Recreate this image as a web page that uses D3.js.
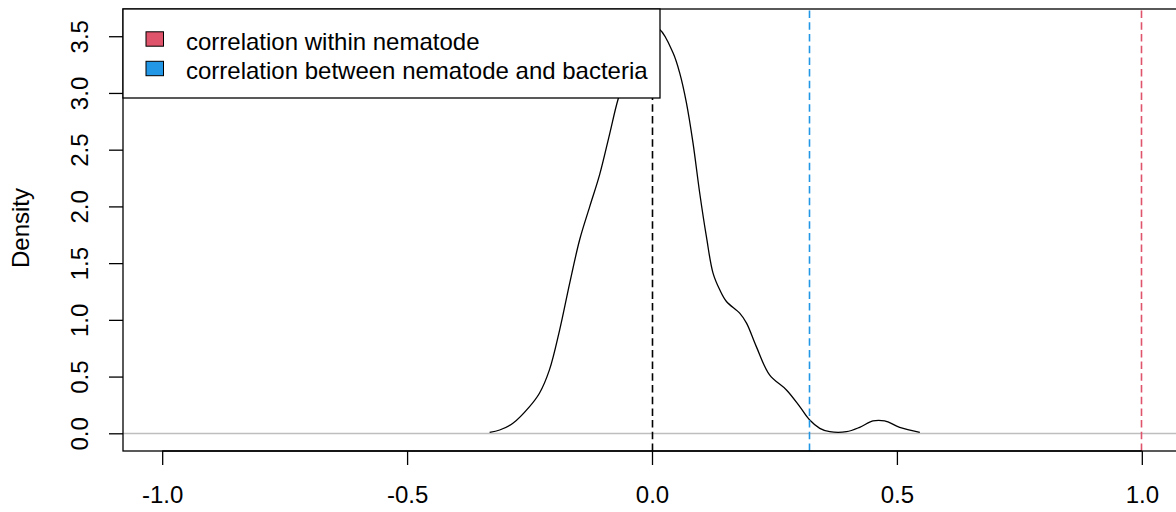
<!DOCTYPE html>
<html>
<head>
<meta charset="utf-8">
<script src="https://cdn.jsdelivr.net/npm/d3@7"></script>
<style>
  html, body { margin: 0; padding: 0; background: #fff; }
  svg { display: block; }
  text { font-family: "Liberation Sans", Arial, sans-serif; fill: #000; }
</style>
</head>
<body>
<svg id="chart" width="1176" height="512"></svg>
<script>
// ---- data ----
const densityX = [-0.3315, -0.311, -0.284, -0.250, -0.2298, -0.2094, -0.1885, -0.168, -0.1477, -0.127, -0.1069, -0.0864, -0.0694, -0.0455, -0.025, -0.005, 0.0157, 0.0429, 0.0565, 0.0703, 0.0837, 0.0974, 0.111, 0.1246, 0.1383, 0.152, 0.179, 0.193, 0.213, 0.240, 0.2745, 0.3017, 0.322, 0.3425, 0.363, 0.397, 0.424, 0.451, 0.475, 0.5056, 0.5468];
const densityY = [0.009, 0.029, 0.088, 0.235, 0.353, 0.559, 0.912, 1.324, 1.706, 2.000, 2.280, 2.640, 2.942, 3.25, 3.47, 3.58, 3.56, 3.354, 3.177, 2.913, 2.56, 2.118, 1.735, 1.412, 1.265, 1.162, 1.059, 0.971, 0.764, 0.515, 0.382, 0.235, 0.117, 0.044, 0.014, 0.014, 0.053, 0.109, 0.109, 0.053, 0.009];

const refValues = [0, 0.322, 1.0];
const refColors = ["#000000", "#2297E6", "#DF536B"];

const legendLabels = ["correlation within nematode", "correlation between nematode and bacteria"];
const legendColors = ["#DF536B", "#2297E6"];

const xTicks = [-1.0, -0.5, 0.0, 0.5, 1.0];
const xTickLabels = ["-1.0", "-0.5", "0.0", "0.5", "1.0"];
const yTicks = [0.0, 0.5, 1.0, 1.5, 2.0, 2.5, 3.0, 3.5];
const yTickLabels = ["0.0", "0.5", "1.0", "1.5", "2.0", "2.5", "3.0", "3.5"];
const yLabel = "Density";

// ---- layout ----
const plotLeft = 123, plotRight = 1181, plotTop = 9, plotBottom = 451;
const svg = d3.select("#chart");

const x = d3.scaleLinear().domain([-1.08, 1.08]).range([plotLeft, plotRight]);
const y = d3.scaleLinear().domain([-0.156, 3.74]).range([plotBottom, plotTop]);
const snap = v => Math.round(v - 0.5) + 0.5;

const pts = densityX.map((d, i) => [d, densityY[i]]);

// zero line
svg.append("line")
  .attr("x1", plotLeft).attr("x2", plotRight)
  .attr("y1", snap(y(0))).attr("y2", snap(y(0)))
  .attr("stroke", "#BEBEBE").attr("stroke-width", 1.3);

// density curve
svg.append("path")
  .datum(pts)
  .attr("fill", "none")
  .attr("stroke", "#000")
  .attr("stroke-width", 1.3)
  .attr("d", d3.line().x(d => x(d[0])).y(d => y(d[1])).curve(d3.curveCatmullRom.alpha(0.5)));

// reference dashed lines
svg.selectAll("line.ref").data(refValues).enter().append("line")
  .attr("class", "ref")
  .attr("x1", d => snap(x(d))).attr("x2", d => snap(x(d)))
  .attr("y1", plotBottom).attr("y2", plotTop)
  .attr("stroke", (d, i) => refColors[i])
  .attr("stroke-width", 1.6)
  .attr("stroke-dasharray", "7.5,4.2");

// axes
const xAxis = d3.axisBottom(x).tickValues(xTicks).tickSize(14).tickPadding(21)
  .tickFormat((d, i) => xTickLabels[i]);
const gx = svg.append("g").attr("transform", `translate(0,${plotBottom})`).call(xAxis);
gx.select(".domain").remove();
gx.selectAll(".tick line").attr("stroke", "#000").attr("stroke-width", 1.3);
gx.selectAll(".tick text").attr("font-size", 24).attr("dy", "0.71em")
  .attr("font-family", "'Liberation Sans', Arial, sans-serif").attr("fill", "#000");
gx.append("line").attr("x1", x(-1)).attr("x2", x(1)).attr("y1", 0).attr("y2", 0)
  .attr("stroke", "#000").attr("stroke-width", 1.3);

const yAxis = d3.axisLeft(y).tickValues(yTicks).tickSize(14)
  .tickFormat((d, i) => yTickLabels[i]);
const gy = svg.append("g").attr("transform", `translate(${plotLeft},0)`).call(yAxis);
gy.select(".domain").remove();
gy.selectAll(".tick line").attr("stroke", "#000").attr("stroke-width", 1.3);
gy.selectAll(".tick text")
  .attr("font-size", 24)
  .attr("font-family", "'Liberation Sans', Arial, sans-serif")
  .attr("fill", "#000")
  .attr("x", null).attr("dy", null)
  .attr("text-anchor", "middle")
  .attr("transform", "translate(-35,0) rotate(-90)");

// plot box
svg.append("rect")
  .attr("x", plotLeft).attr("y", plotTop)
  .attr("width", plotRight - plotLeft).attr("height", plotBottom - plotTop)
  .attr("fill", "none").attr("stroke", "#000").attr("stroke-width", 1.3);

// y label
svg.append("text")
  .attr("transform", `translate(29,228) rotate(-90)`)
  .attr("text-anchor", "middle")
  .attr("font-size", 24)
  .text(yLabel);

// legend
const lg = svg.append("g");
lg.append("rect")
  .attr("x", plotLeft).attr("y", plotTop)
  .attr("width", 660 - plotLeft).attr("height", 98 - plotTop)
  .attr("fill", "#fff").attr("stroke", "#000").attr("stroke-width", 1.3);
legendLabels.forEach((lab, i) => {
  const cy = 39 + i * 29.5;
  lg.append("rect")
    .attr("x", 146).attr("y", cy - 7.2)
    .attr("width", 17.5).attr("height", 14.4)
    .attr("fill", legendColors[i]).attr("stroke", "#000").attr("stroke-width", 1);
  lg.append("text")
    .attr("x", 186).attr("y", 49.5 + i * 29.5)
    .attr("font-size", 24)
    .text(lab);
});
</script>
</body>
</html>
